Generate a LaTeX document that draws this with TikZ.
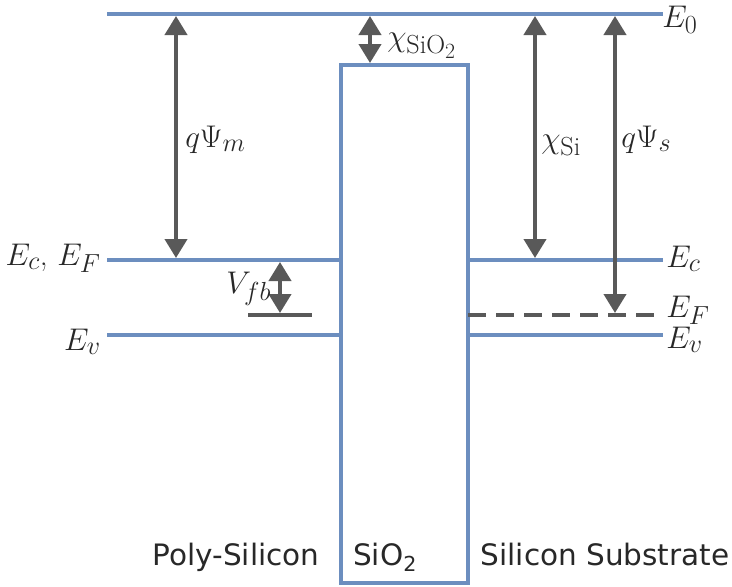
\documentclass[tikz,border=0pt]{standalone}
\usepackage{fontspec}
\setsansfont{DejaVu Sans}
\usetikzlibrary{arrows.meta}
\definecolor{bl}{RGB}{108,142,191}
\definecolor{gr}{RGB}{89,89,89}
\definecolor{tx}{RGB}{40,40,40}
\begin{document}
\begin{tikzpicture}[x=1pt,y=-1pt,
  band/.style={draw=bl,line width=4pt},
  darrow/.style={draw=gr,line width=4pt,{Triangle[width=22pt,length=19pt]}-{Triangle[width=22pt,length=19pt]}},
  glev/.style={draw=gr,line width=4pt},
  lbl/.style={font=\fontsize{24.88}{30}\selectfont, text=tx, inner sep=0pt, scale=1.26},
  sans/.style={font=\sffamily\fontsize{29.5}{34}\selectfont, text=tx, inner sep=0pt}]
\useasboundingbox (0,0) rectangle (732,587);
% levels
\coordinate (E0l) at (107,14); \coordinate (E0r) at (663,14);
\coordinate (oxA) at (341,65); \coordinate (oxB) at (468,583);
\coordinate (Ecl1) at (107,260); \coordinate (Ecl2) at (341,260);
\coordinate (Evl1) at (107,335); \coordinate (Evl2) at (341,335);
\coordinate (Ecr1) at (468,260); \coordinate (Ecr2) at (663,260);
\coordinate (Evr1) at (468,335); \coordinate (Evr2) at (663,335);
\coordinate (Efr1) at (468,315); \coordinate (Efr2) at (663,315);
\coordinate (Vf1) at (248,315); \coordinate (Vf2) at (312,315);
\draw[band] (E0l) -- (E0r);
\draw[band] (oxA) rectangle (oxB);
\draw[band] (Ecl1) -- (Ecl2);
\draw[band] (Evl1) -- (Evl2);
\draw[band] (Ecr1) -- (Ecr2);
\draw[band] (Evr1) -- (Evr2);
\draw[glev,dash pattern=on 18pt off 10pt] (Efr1) -- (Efr2);
\draw[glev] (Vf1) -- (Vf2);
% arrows
\coordinate (pm1) at (176,16); \coordinate (pm2) at (176,258);
\coordinate (cx1) at (370,16); \coordinate (cx2) at (370,63);
\coordinate (cs1) at (535,16); \coordinate (cs2) at (535,258);
\coordinate (ps1) at (615,16); \coordinate (ps2) at (615,313);
\coordinate (vf1) at (280,262); \coordinate (vf2) at (280,313);
\draw[darrow] (pm1) -- (pm2);
\draw[darrow] (cx1) -- (cx2);
\draw[darrow] (cs1) -- (cs2);
\draw[darrow] (ps1) -- (ps2);
\draw[darrow] (vf1) -- (vf2);
% labels
\node[lbl,anchor=base west] (lE0) at (662,27) {$E_0$};
\node[lbl,anchor=base west] (lEcr) at (666,267) {$E_c$};
\node[lbl,anchor=base west] (lEfr) at (666,317) {$E_F$};
\node[lbl,anchor=base west] (lEvr) at (666,348) {$E_v$};
\node[lbl,anchor=base east] (lEcl) at (101,265) {$E_c$, $E_F$};
\node[lbl,anchor=base east] (lEvl) at (101,350) {$E_v$};
\node[lbl,anchor=base west] (lpm) at (185,147) {$q\Psi_m$};
\node[lbl,anchor=base west] (lcs) at (541,148) {$\chi_{\mathrm{Si}}$};
\node[lbl,anchor=base west] (lps) at (621,147) {$q\Psi_s$};
\node[lbl,anchor=base west] (lcx) at (387,46) {$\chi_{\mathrm{SiO}_2}$};
\node[lbl,anchor=base west] (lvf) at (226,293) {$V_{fb}$};
\node[sans,anchor=base] (pp) at (236,565) {Poly-Silicon};
\node[sans,anchor=base west] (po) at (353,565) {SiO\textsubscript{2}};
\node[sans,anchor=base] (ps) at (605,565) {Silicon Substrate};
\end{tikzpicture}
\end{document}
